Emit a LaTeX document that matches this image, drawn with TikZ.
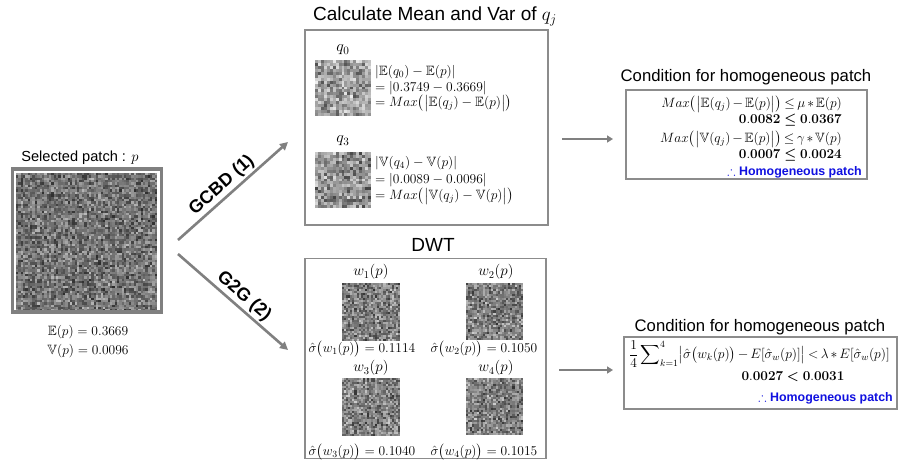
\RequirePackage{fix-cm}
\documentclass[tikz,border=0pt]{standalone}
\usepackage{amsmath,amssymb}
\usepackage[no-math]{fontspec}
\setmainfont{Liberation Sans}
\usetikzlibrary{arrows.meta}

% grainy gray texture: x0, y0, side length, cells per side, seed, darkest, lightest
\newcommand\noisetex[7]{%
  \pgfmathsetseed{#5}%
  \pgfmathsetmacro\cellw{#3/#4}%
  \foreach \ci in {1,...,#4}{%
    \foreach \cj in {1,...,#4}{%
      \pgfmathrandominteger{\ga}{#6}{#7}%
      \pgfmathrandominteger{\gb}{#6}{#7}%
      \pgfmathtruncatemacro\gv{(\ga+\gb)/2}%
      \fill[black!\gv] ({#1+(\ci-1)*\cellw},{#2+(\cj-1)*\cellw}) rectangle ++({\cellw+0.3},{\cellw+0.3});
    }%
  }%
}
% tighter spacing around binary operators and relations
\newcommand\tightmath{\medmuskip=2.5mu plus 1mu\thickmuskip=3.5mu plus 1mu}

\definecolor{linegray}{HTML}{808080}
\definecolor{boxgray}{HTML}{8C8C8C}
\definecolor{okblue}{HTML}{1010E0}

\tikzset{
  heading/.style={font=\fontsize{16.7}{19}\selectfont, inner sep=0pt},
  bighead/.style={font=\fontsize{19}{22}\selectfont, inner sep=0pt},
  mtext/.style={font=\fontsize{13.5}{16}\selectfont, inner sep=0pt, text height=9pt, text depth=3.5pt},
  ctext/.style={font=\fontsize{13.5}{16}\selectfont\tightmath, inner sep=0pt, text height=9pt, text depth=3.5pt},
  sublbl/.style={font=\fontsize{16}{18}\selectfont, inner sep=0pt},
  wlbl/.style={font=\fontsize{15}{17}\selectfont, inner sep=0pt},
  frame/.style={draw=boxgray, line width=1.4pt},
  flow/.style={draw=linegray, line width=2.6pt, -{Triangle[length=8pt,width=8pt]}},
  shortflow/.style={draw=linegray, line width=2.4pt, -{Triangle[length=6pt,width=7pt]}},
  branch/.style={font=\bfseries\fontsize{18}{21}\selectfont, inner sep=0pt},
  verdict/.style={font=\bfseries\fontsize{12.4}{14}\selectfont, text=okblue, inner sep=0pt},
}

\begin{document}
\begin{tikzpicture}[x=1pt,y=-1pt]
\useasboundingbox (0,0) rectangle (898,464);
\fill[white] (0,0) rectangle (898,464);

% ---------- selected patch ----------
\node[font=\fontsize{14.6}{17}\selectfont, inner sep=0pt] (ptitle) at (80,158) {Selected patch : $p$};
\noisetex{16}{173}{141}{60}{11}{26}{84}
\node[draw=linegray, line width=3.5pt, minimum width=149pt, minimum height=143pt, inner sep=0pt] (patch) at (87,240.5) {};
\node[mtext] (pmean) at (88,333) {$\mathbb{E}(p) = 0.3669$};
\node[mtext] (pvar) at (88,352) {$\mathbb{V}(p) = 0.0096$};

% ---------- branches ----------
\coordinate (splitA) at (178,240);
\coordinate (splitB) at (178,254);
\coordinate (tipA) at (288,142);
\coordinate (tipB) at (288,350);
\draw[flow] (splitA) -- (tipA);
\draw[flow] (splitB) -- (tipB);
\path (splitA) -- (tipA) node[branch, pos=0.47, sloped, above=3pt] (lblA) {GCBD (1)};
\path (splitB) -- (tipB) node[branch, pos=0.53, sloped, above=3pt] (lblB) {G2G (2)};

% ---------- mean / variance box ----------
\node[bighead] (mvtitle) at (435,16) {Calculate Mean and Var of $q_j$};
\node[frame, minimum width=243pt, minimum height=195pt, inner sep=0pt] (mvbox) at (426.5,127.5) {};

\node[sublbl] (q0lbl) at (343,50) {$q_0$};
\noisetex{315}{60}{56}{19}{23}{5}{72}
\node[mtext, anchor=west] (q0a) at (375,73) {$|\mathbb{E}(q_0) - \mathbb{E}(p)|$};
\node[mtext, anchor=west] (q0b) at (375,89) {$= |0.3749 - 0.3669|$};
\node[mtext, anchor=west] (q0c) at (375,104) {$= Max\bigl(\bigl|\mathbb{E}(q_j) - \mathbb{E}(p)\bigr|\bigr)$};

\node[sublbl] (q3lbl) at (343,141) {$q_3$};
\noisetex{315}{152}{56}{19}{37}{10}{78}
\node[mtext, anchor=west] (q3a) at (375,164) {$|\mathbb{V}(q_4) - \mathbb{V}(p)|$};
\node[mtext, anchor=west] (q3b) at (375,181) {$= |0.0089 - 0.0096|$};
\node[mtext, anchor=west] (q3c) at (375,197) {$= Max\bigl(\bigl|\mathbb{V}(q_j) - \mathbb{V}(p)\bigr|\bigr)$};

% ---------- DWT box ----------
\node[bighead] (dwttitle) at (433,245) {DWT};
\node[frame, minimum width=241pt, minimum height=200pt, inner sep=0pt] (dwtbox) at (425.5,358.5) {};

\node[wlbl] (w1lbl) at (371,272) {$w_1(p)$};
\noisetex{342}{283}{58}{28}{41}{18}{82}
\node[mtext] (w1s) at (362,350) {$\hat{\sigma}\bigl(w_1(p)\bigr) = 0.1114$};

\node[wlbl] (w2lbl) at (496,272) {$w_2(p)$};
\noisetex{466}{283}{57}{27}{53}{18}{82}
\node[mtext] (w2s) at (484,350) {$\hat{\sigma}\bigl(w_2(p)\bigr) = 0.1050$};

\node[wlbl] (w3lbl) at (371,368) {$w_3(p)$};
\noisetex{342}{378}{58}{28}{67}{18}{82}
\node[mtext] (w3s) at (362,453) {$\hat{\sigma}\bigl(w_3(p)\bigr) = 0.1040$};

\node[wlbl] (w4lbl) at (496,368) {$w_4(p)$};
\noisetex{466}{378}{57}{27}{79}{18}{82}
\node[mtext] (w4s) at (484,453) {$\hat{\sigma}\bigl(w_4(p)\bigr) = 0.1015$};

% ---------- condition: mean / variance ----------
\node[heading] (condAtitle) at (746,77) {Condition for homogeneous patch};
\node[frame, minimum width=241pt, minimum height=89pt, inner sep=0pt] (condA) at (746.5,134.5) {};
\node[ctext, anchor=east] (ca1) at (842,105) {$Max\bigl(\bigl|\mathbb{E}(q_j) - \mathbb{E}(p)\bigr|\bigr) \le \mu * \mathbb{E}(p)$};
\node[mtext, anchor=east] (ca2) at (842,121) {$\mathbf{0.0082} \boldsymbol{\le} \mathbf{0.0367}$};
\node[ctext, anchor=east] (ca3) at (842,140) {$Max\bigl(\bigl|\mathbb{V}(q_j) - \mathbb{E}(p)\bigr|\bigr) \le \gamma * \mathbb{V}(p)$};
\node[mtext, anchor=east] (ca4) at (842,156) {$\mathbf{0.0007} \boldsymbol{\le} \mathbf{0.0024}$};
\node[verdict, anchor=east] (caok) at (862,172) {$\therefore$ Homogeneous patch};

% ---------- condition: wavelet spread ----------
\node[heading] (condBtitle) at (760,327) {Condition for homogeneous patch};
\node[frame, minimum width=273pt, minimum height=72pt, inner sep=0pt] (condB) at (760.5,373) {};
\node[ctext, font=\fontsize{13.6}{16}\selectfont\tightmath, anchor=west, text height=12pt, text depth=5pt] (cb1) at (629,355) {$\displaystyle \frac{1}{4}\sum\nolimits_{k=1}^{4}\bigl|\hat{\sigma}\bigl(w_k(p)\bigr) - E[\hat{\sigma}_w(p)]\bigr| < \lambda * E[\hat{\sigma}_w(p)]$};
\node[mtext] (cb2) at (793,378) {$\mathbf{0.0027} \boldsymbol{<} \mathbf{0.0031}$};
\node[verdict, anchor=east] (cbok) at (893,398) {$\therefore$ Homogeneous patch};

% ---------- links to the conditions ----------
\coordinate (linkAstart) at (562,139);
\coordinate (linkAend) at (613,139);
\coordinate (linkBstart) at (559,370);
\coordinate (linkBend) at (613,370);
\draw[shortflow] (linkAstart) -- (linkAend);
\draw[shortflow] (linkBstart) -- (linkBend);
\end{tikzpicture}
\end{document}
